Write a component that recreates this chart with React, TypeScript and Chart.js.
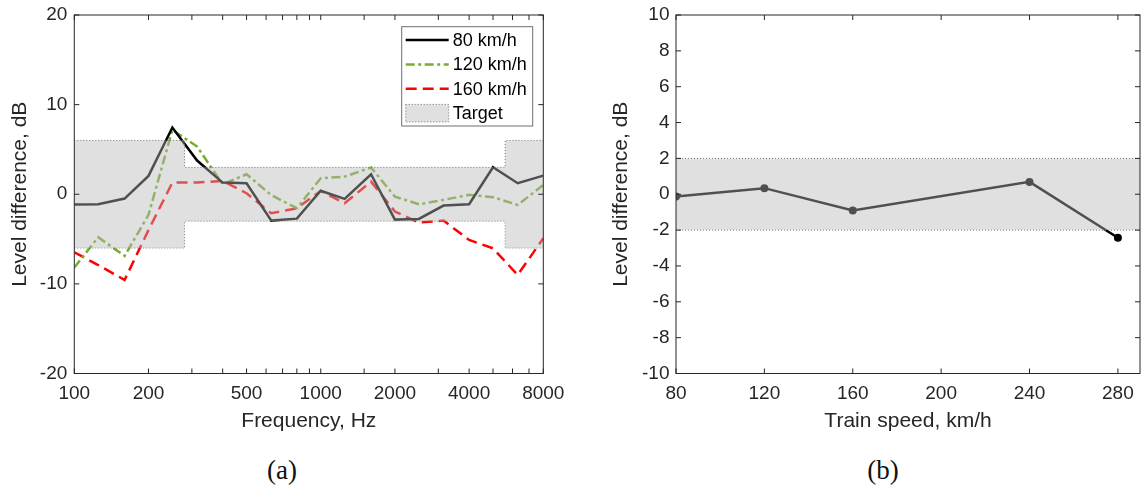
import React, { useEffect, useRef } from 'react';
import { Chart, registerables } from 'chart.js';

Chart.register(...registerables);

// ---------- Panel (a): level difference vs frequency ----------
const FREQUENCIES = [100, 125, 160, 200, 250, 315, 400, 500, 630, 800, 1000, 1250, 1600, 2000, 2500, 3150, 4000, 5000, 6300, 8000];
const LEVEL_80 = [-1.15, -1.12, -0.48, 2.05, 7.44, 3.76, 1.3, 1.23, -2.94, -2.72, 0.39, -0.52, 2.23, -2.83, -2.75, -1.26, -1.12, 3.01, 1.23, 2.08];
const LEVEL_120 = [-8.18, -4.8, -6.88, -2.3, 7.18, 5.32, 1.12, 2.23, -0.1, -1.56, 1.79, 1.97, 2.98, -0.26, -1.12, -0.63, -0.07, -0.33, -1.19, 1.04];
const LEVEL_160 = [-6.47, -7.9, -9.56, -4.0, 1.3, 1.3, 1.49, 0.11, -2.12, -1.56, 0.37, -1.0, 1.41, -1.93, -3.16, -2.94, -5.1, -6.03, -9.0, -4.91];
const TARGET_FREQ = [100, 280, 280, 5600, 5600, 8000];
const TARGET_UPPER = [6, 6, 3, 3, 6, 6];
const TARGET_LOWER = [-6, -6, -3, -3, -6, -6];
const FREQ_TICK_LABELS = [100, 200, 500, 1000, 2000, 4000, 8000];

// ---------- Panel (b): level difference vs train speed ----------
const SPEEDS = [80, 120, 160, 240, 280];
const SPEED_LEVEL = [-0.13, 0.34, -0.9, 0.69, -2.43];
const SPEED_TICKS = [80, 120, 160, 200, 240, 280];
const SPEED_TARGET_X = [80, 290];
const SPEED_TARGET_UPPER = [2, 2];
const SPEED_TARGET_LOWER = [-2, -2];

const FONT = '"Liberation Sans", Arial, Helvetica, sans-serif';
const AXIS_COLOR = '#262626';
const BAND_FILL = 'rgba(184,184,184,0.435)';
const BAND_EDGE = '#707070';

const pts = (xs: number[], ys: number[]) => xs.map((x, i) => ({ x, y: ys[i] }));

const framePlugin = {
  id: 'frameTicks',
  afterDraw(chart: any) {
    const { ctx, chartArea: a } = chart;
    const xs = chart.scales.x;
    const ys = chart.scales.y;
    const L = 5;
    ctx.save();
    ctx.strokeStyle = AXIS_COLOR;
    ctx.lineWidth = 1;
    ctx.setLineDash([]);
    ctx.beginPath();
    for (const t of xs.ticks) {
      const px = xs.getPixelForValue(t.value);
      ctx.moveTo(px, a.bottom);
      ctx.lineTo(px, a.bottom - L);
      ctx.moveTo(px, a.top);
      ctx.lineTo(px, a.top + L);
    }
    for (const t of ys.ticks) {
      const py = ys.getPixelForValue(t.value);
      ctx.moveTo(a.left, py);
      ctx.lineTo(a.left + L, py);
      ctx.moveTo(a.right, py);
      ctx.lineTo(a.right - L, py);
    }
    ctx.stroke();
    ctx.strokeRect(a.left, a.top, a.right - a.left, a.bottom - a.top);
    ctx.restore();
  },
};

const boxLegendPlugin = {
  id: 'boxLegend',
  afterDraw(chart: any) {
    const opts = chart.options.plugins.boxLegend;
    if (!opts || !opts.display) return;
    const { ctx, chartArea: a } = chart;
    const bw = 131;
    const bh = 99.3;
    const bx = a.right - 10.6 - bw;
    const by = a.top + 11.7;
    ctx.save();
    ctx.fillStyle = '#ffffff';
    ctx.fillRect(bx, by, bw, bh);
    ctx.strokeStyle = '#6e6e6e';
    ctx.lineWidth = 1;
    ctx.strokeRect(bx, by, bw, bh);
    const items = chart.data.datasets.filter((d: any) => d.label);
    items.forEach((d: any, i: number) => {
      const cy = by + 13.3 + i * 24.4;
      const x0 = bx + 4;
      const x1 = bx + 47;
      if (d.isTarget) {
        ctx.fillStyle = '#ffffff';
        ctx.fillRect(x0, cy - 8.8, x1 - x0, 17.6);
        ctx.fillStyle = d.backgroundColor;
        ctx.fillRect(x0, cy - 8.8, x1 - x0, 17.6);
        ctx.strokeStyle = d.borderColor;
        ctx.lineWidth = 1;
        ctx.setLineDash(d.borderDash || []);
        ctx.strokeRect(x0, cy - 8.8, x1 - x0, 17.6);
      } else {
        ctx.strokeStyle = d.borderColor;
        ctx.lineWidth = d.borderWidth;
        ctx.setLineDash(d.borderDash || []);
        ctx.beginPath();
        ctx.moveTo(x0, cy);
        ctx.lineTo(x1, cy);
        ctx.stroke();
      }
      ctx.setLineDash([]);
      ctx.fillStyle = '#000000';
      ctx.font = `18px ${FONT}`;
      ctx.textBaseline = 'middle';
      ctx.textAlign = 'left';
      ctx.fillText(d.label, bx + 51, cy + 1);
    });
    ctx.restore();
  },
};

function fixX(h: number) {
  return (s: any) => {
    s.height = h;
    s.paddingLeft = 0;
    s.paddingRight = 0;
  };
}
function fixY(w: number) {
  return (s: any) => {
    s.width = w;
    s.paddingTop = 0;
    s.paddingBottom = 0;
  };
}

function PanelA() {
  const ref = useRef<HTMLCanvasElement>(null);
  useEffect(() => {
    const chart = new Chart(ref.current as HTMLCanvasElement, {
      type: 'line',
      data: {
        datasets: [
          {
            label: '80 km/h',
            data: pts(FREQUENCIES, LEVEL_80),
            borderColor: '#000000',
            borderWidth: 2.5,
            pointRadius: 0,
            tension: 0,
            fill: false,
          },
          {
            label: '120 km/h',
            data: pts(FREQUENCIES, LEVEL_120),
            borderColor: '#77AC30',
            borderWidth: 2.5,
            borderDash: [9, 3.5, 3, 3.5],
            pointRadius: 0,
            tension: 0,
            fill: false,
          },
          {
            label: '160 km/h',
            data: pts(FREQUENCIES, LEVEL_160),
            borderColor: '#FF0000',
            borderWidth: 2.5,
            borderDash: [11, 6],
            pointRadius: 0,
            tension: 0,
            fill: false,
          },
          {
            label: 'Target',
            isTarget: true,
            data: pts(TARGET_FREQ, TARGET_UPPER),
            borderColor: BAND_EDGE,
            borderWidth: 1,
            borderDash: [1, 2],
            backgroundColor: BAND_FILL,
            pointRadius: 0,
            tension: 0,
            fill: '+1',
            order: -1,
          },
          {
            label: '',
            data: pts(TARGET_FREQ, TARGET_LOWER),
            borderColor: BAND_EDGE,
            borderWidth: 1,
            borderDash: [1, 2],
            backgroundColor: BAND_FILL,
            pointRadius: 0,
            tension: 0,
            fill: false,
            order: -1,
          },
        ] as any,
      },
      options: {
        responsive: false,
        animation: false,
        devicePixelRatio: 1,
        layout: { padding: { top: 15, right: 28.7, left: 0, bottom: 0 } },
        plugins: {
          legend: { display: false },
          tooltip: { enabled: false },
          boxLegend: { display: true },
        } as any,
        scales: {
          x: {
            type: 'logarithmic',
            min: 100,
            max: 8000,
            grid: { display: false, drawTicks: false },
            border: { display: false },
            ticks: {
              autoSkip: false,
              maxRotation: 0,
              minRotation: 0,
              padding: 8.8,
              color: AXIS_COLOR,
              font: { family: FONT, size: 19 },
              callback: (v: any) => (FREQ_TICK_LABELS.includes(Number(v)) ? String(v) : ''),
            },
            title: {
              display: true,
              text: 'Frequency, Hz',
              color: AXIS_COLOR,
              font: { family: FONT, size: 21 },
              padding: { top: 0, bottom: 10.7 },
            },
            afterFit: fixX(71.5),
          },
          y: {
            min: -20,
            max: 20,
            grid: { display: false, drawTicks: false },
            border: { display: false },
            ticks: {
              stepSize: 10,
              padding: 7,
              color: AXIS_COLOR,
              font: { family: FONT, size: 19 },
            },
            title: {
              display: true,
              text: 'Level difference, dB',
              color: AXIS_COLOR,
              font: { family: FONT, size: 21 },
              padding: { top: 7.4, bottom: 0 },
            },
            afterFit: fixY(74.3),
          },
        } as any,
      },
      plugins: [framePlugin, boxLegendPlugin],
    });
    return () => chart.destroy();
  }, []);
  return <canvas ref={ref} width={572} height={445} style={{ position: 'absolute', left: 0, top: 0, width: 572, height: 445 }} />;
}

function PanelB() {
  const ref = useRef<HTMLCanvasElement>(null);
  useEffect(() => {
    const chart = new Chart(ref.current as HTMLCanvasElement, {
      type: 'line',
      data: {
        datasets: [
          {
            label: '',
            data: pts(SPEEDS, SPEED_LEVEL),
            borderColor: '#000000',
            borderWidth: 2.5,
            pointRadius: 4,
            pointBackgroundColor: '#000000',
            pointBorderWidth: 0,
            tension: 0,
            fill: false,
          },
          {
            label: '',
            data: pts(SPEED_TARGET_X, SPEED_TARGET_UPPER),
            borderColor: BAND_EDGE,
            borderWidth: 1,
            borderDash: [1, 2],
            backgroundColor: BAND_FILL,
            pointRadius: 0,
            fill: '+1',
            order: -1,
          },
          {
            label: '',
            data: pts(SPEED_TARGET_X, SPEED_TARGET_LOWER),
            borderColor: BAND_EDGE,
            borderWidth: 1,
            borderDash: [1, 2],
            backgroundColor: BAND_FILL,
            pointRadius: 0,
            fill: false,
            order: -1,
          },
        ] as any,
      },
      options: {
        responsive: false,
        animation: false,
        devicePixelRatio: 1,
        layout: { padding: { top: 15, right: 0, left: 0, bottom: 0 } },
        plugins: {
          legend: { display: false },
          tooltip: { enabled: false },
        },
        scales: {
          x: {
            type: 'linear',
            min: 80,
            max: 290,
            grid: { display: false, drawTicks: false },
            border: { display: false },
            afterBuildTicks: (s: any) => {
              s.ticks = SPEED_TICKS.map((v) => ({ value: v }));
            },
            ticks: {
              autoSkip: false,
              maxRotation: 0,
              minRotation: 0,
              padding: 8.8,
              color: AXIS_COLOR,
              font: { family: FONT, size: 19 },
            },
            title: {
              display: true,
              text: 'Train speed, km/h',
              color: AXIS_COLOR,
              font: { family: FONT, size: 21 },
              padding: { top: 0, bottom: 10.7 },
            },
            afterFit: fixX(71.5),
          },
          y: {
            min: -10,
            max: 10,
            grid: { display: false, drawTicks: false },
            border: { display: false },
            ticks: {
              stepSize: 2,
              padding: 6.5,
              color: AXIS_COLOR,
              font: { family: FONT, size: 19 },
            },
            title: {
              display: true,
              text: 'Level difference, dB',
              color: AXIS_COLOR,
              font: { family: FONT, size: 21 },
              padding: { top: 37.1, bottom: 0 },
            },
            afterFit: fixY(104),
          },
        } as any,
      },
      plugins: [framePlugin],
    });
    return () => chart.destroy();
  }, []);
  return <canvas ref={ref} width={572} height={445} style={{ position: 'absolute', left: 572, top: 0, width: 572, height: 445 }} />;
}

const captionStyle = (cx: number): React.CSSProperties => ({
  position: 'absolute',
  left: cx - 50,
  top: 454,
  width: 100,
  textAlign: 'center',
  fontFamily: '"Liberation Serif", "Times New Roman", serif',
  fontSize: 27,
  lineHeight: '32px',
  color: '#111',
});

export default function App() {
  return (
    <div style={{ position: 'absolute', left: 0, top: 0, width: 1144, height: 486, background: '#fff', overflow: 'hidden' }}>
      <PanelA />
      <PanelB />
      <div style={captionStyle(282)}>(a)</div>
      <div style={captionStyle(883)}>(b)</div>
    </div>
  );
}
